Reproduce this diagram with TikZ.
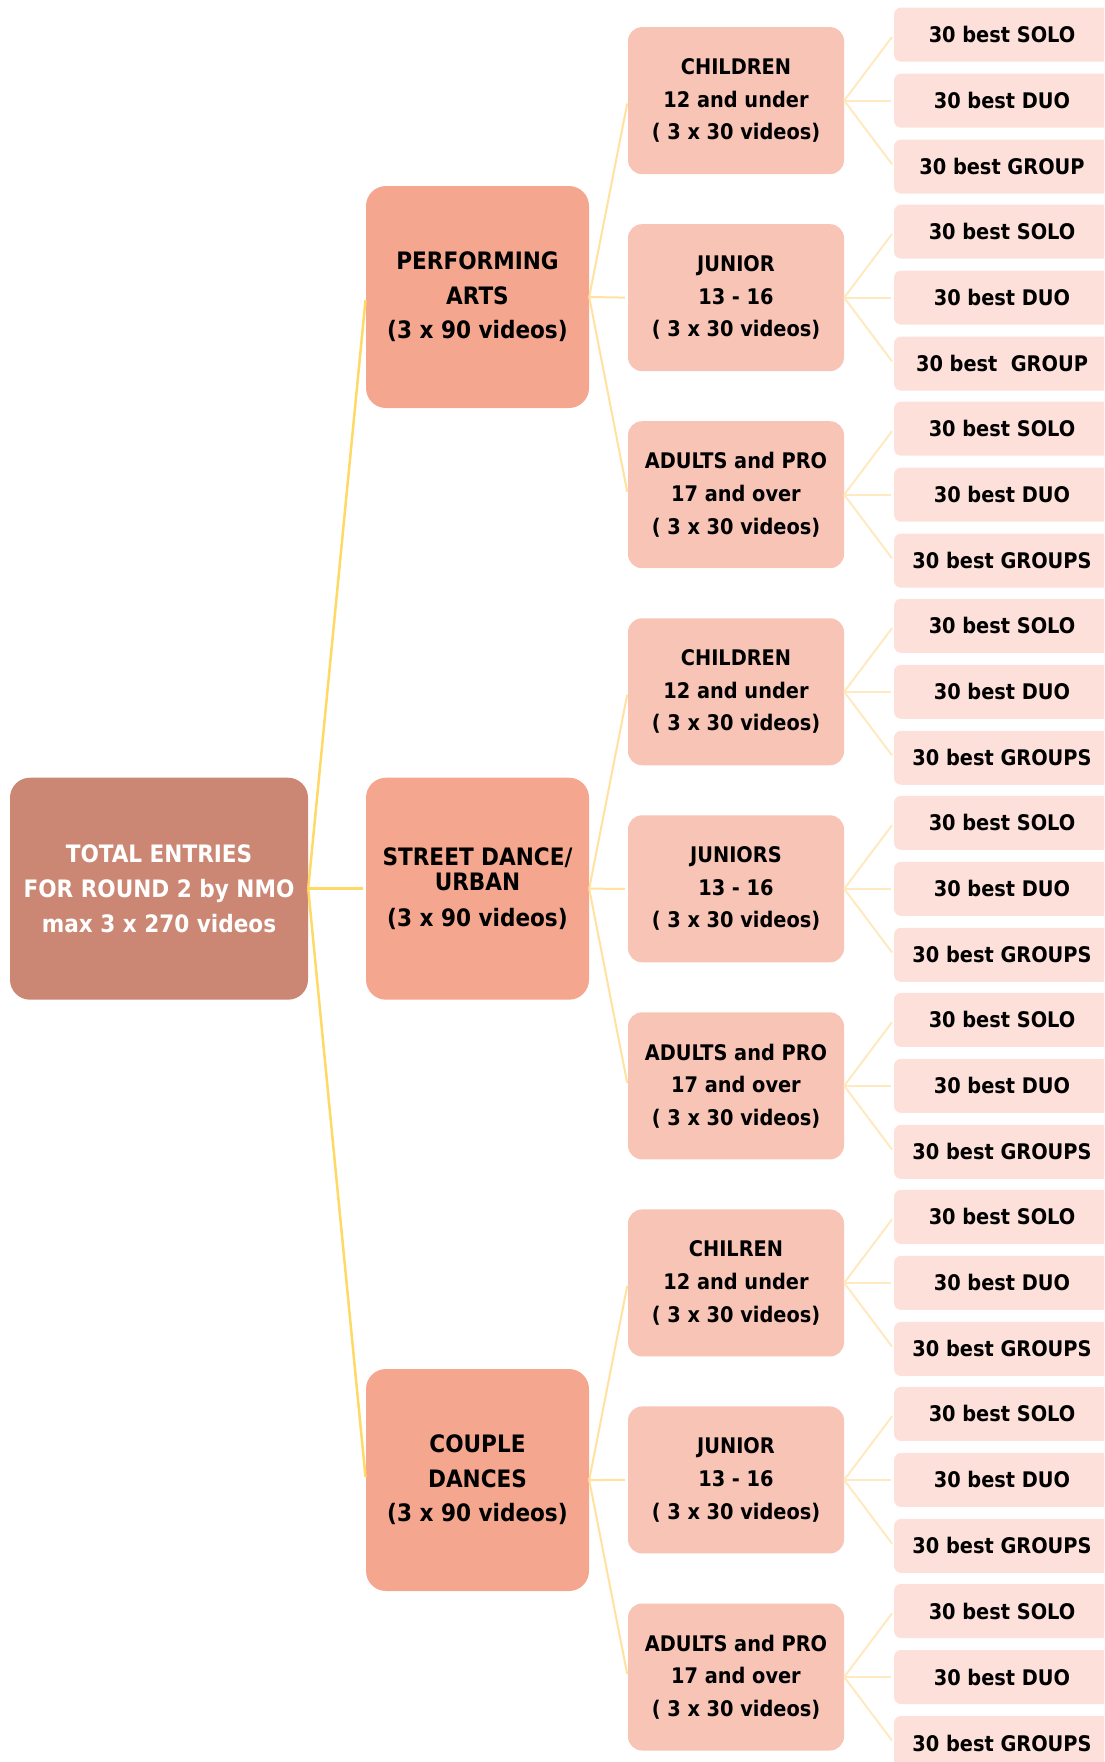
\documentclass[tikz,border=0pt]{standalone}
\usepackage{fontspec}
\newfontfamily\boxfont{DejaVu Sans Condensed}
\definecolor{rootc}{RGB}{203,135,116}
\definecolor{catc}{RGB}{244,166,142}
\definecolor{agec}{RGB}{247,196,182}
\definecolor{leafc}{RGB}{252,224,217}
\definecolor{linea}{RGB}{255,217,102}
\definecolor{lineb}{RGB}{255,226,160}
\definecolor{linec}{RGB}{255,233,192}
\begin{document}
\begin{tikzpicture}[x=1pt,y=-1pt,
  rootbox/.style={fill=rootc, rounded corners=20pt, minimum width=298pt, minimum height=222pt, text=white, align=center, inner sep=0pt, font=\boxfont\bfseries\fontsize{24}{35}\selectfont},
  catbox/.style={fill=catc, rounded corners=20pt, minimum width=223pt, minimum height=222pt, align=center, inner sep=0pt, font=\boxfont\bfseries\fontsize{24}{34.6}\selectfont},
  agebox/.style={fill=agec, rounded corners=14pt, minimum width=216pt, minimum height=147pt, align=center, inner sep=0pt, font=\boxfont\bfseries\fontsize{21.5}{32.6}\selectfont},
  leafbox/.style={fill=leafc, rounded corners=7pt, minimum width=216pt, minimum height=54pt, align=center, inner sep=0pt, font=\boxfont\bfseries\fontsize{21.5}{26}\selectfont},
  rootline/.style={draw=linea, line width=2.5pt, shorten >=3pt},
  catline/.style={draw=lineb, line width=2pt, shorten >=3pt},
  leafline/.style={draw=linec, line width=2pt, shorten >=3pt}]
\useasboundingbox (0,0) rectangle (1104,1762);
\clip (0,0) rectangle (1104,1762);

\node[rootbox] (root) at (159,888.7) {TOTAL ENTRIES\\FOR ROUND 2 by NMO\\max 3 x 270 videos};

\node[catbox] (c1) at (477.5,297) {PERFORMING\\ARTS\\(3 x 90 videos)};
\node[catbox] (c2) at (477.5,888.7) {STREET DANCE/\\[-10pt]URBAN\\[1.5pt](3 x 90 videos)};
\node[catbox] (c3) at (477.5,1480) {COUPLE\\DANCES\\(3 x 90 videos)};

\foreach \i/\t in {1/{CHILDREN\\12 and under\\( 3 x 30 videos)},
                   2/{JUNIOR\\13 - 16\\( 3 x 30 videos)},
                   3/{ADULTS and PRO\\17 and over\\( 3 x 30 videos)},
                   4/{CHILDREN\\12 and under\\( 3 x 30 videos)},
                   5/{JUNIORS\\13 - 16\\( 3 x 30 videos)},
                   6/{ADULTS and PRO\\17 and over\\( 3 x 30 videos)},
                   7/{CHILREN\\12 and under\\( 3 x 30 videos)},
                   8/{JUNIOR\\13 - 16\\( 3 x 30 videos)},
                   9/{ADULTS and PRO\\17 and over\\( 3 x 30 videos)}}{
  \pgfmathsetmacro{\yy}{100.6+197.05*(\i-1)}
  \node[agebox] (a\i) at (736,\yy) {\t};
}

\foreach \i/\g in {1/{30 best GROUP},2/{30 best\ \ GROUP},3/{30 best GROUPS},
                   4/{30 best GROUPS},5/{30 best GROUPS},6/{30 best GROUPS},
                   7/{30 best GROUPS},8/{30 best GROUPS},9/{30 best GROUPS}}{
  \pgfmathsetmacro{\yy}{100.6+197.05*(\i-1)}
  \node[leafbox] (l\i-1) at (1002,\yy-66) {30 best SOLO};
  \node[leafbox] (l\i-2) at (1002,\yy) {30 best DUO};
  \node[leafbox] (l\i-3) at (1002,\yy+66) {\g};
  \draw[leafline] (a\i.east) -- (l\i-1.west);
  \draw[leafline] (a\i.east) -- (l\i-2.west);
  \draw[leafline] (a\i.east) -- (l\i-3.west);
}

\draw[rootline] (root.east) -- (c1.west);
\draw[rootline] (root.east) -- (c2.west);
\draw[rootline] (root.east) -- (c3.west);

\draw[catline] (c1.east) -- (a1.west);
\draw[catline] (c1.east) -- (a2.west);
\draw[catline] (c1.east) -- (a3.west);
\draw[catline] (c2.east) -- (a4.west);
\draw[catline] (c2.east) -- (a5.west);
\draw[catline] (c2.east) -- (a6.west);
\draw[catline] (c3.east) -- (a7.west);
\draw[catline] (c3.east) -- (a8.west);
\draw[catline] (c3.east) -- (a9.west);
\end{tikzpicture}
\end{document}
